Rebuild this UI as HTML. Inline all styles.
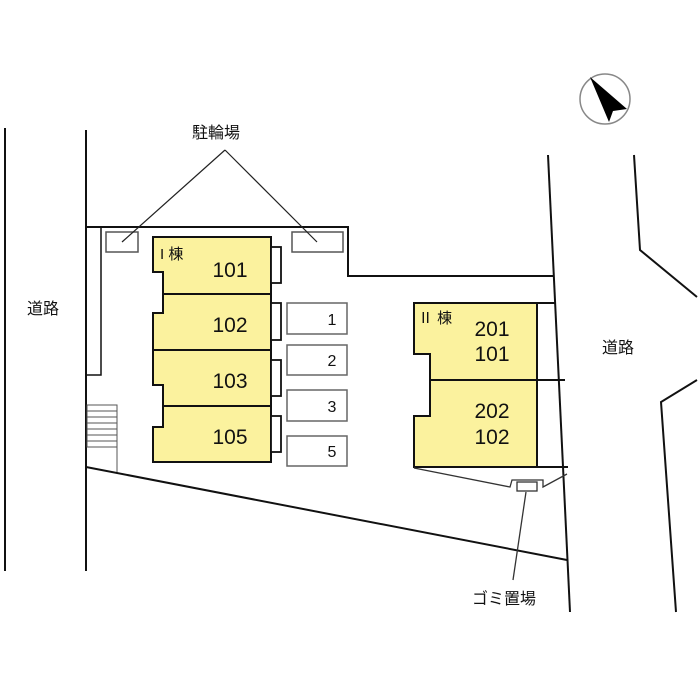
<!DOCTYPE html>
<html><head><meta charset="utf-8"><style>
body{margin:0;background:#fff;}
svg{display:block;}
text{font-family:"Liberation Sans","Noto Sans CJK JP",sans-serif;fill:#111;}
</style></head><body>
<svg width="700" height="700" viewBox="0 0 700 700" xmlns="http://www.w3.org/2000/svg">
<g stroke="#111" stroke-width="2" fill="none">
<!-- left road lines -->
<line x1="5" y1="128" x2="5" y2="571"/>
<line x1="86" y1="130" x2="86" y2="571"/>
<!-- lot top -->
<polyline points="86,227 348,227 348,276 553,276"/>
<rect x="86" y="227" width="15" height="148" stroke-width="1.5"/>
<!-- right lot line -->
<line x1="548" y1="155" x2="570" y2="612"/>
<!-- right road -->
<polyline points="634,155 640,250 697,297"/>
<polyline points="697,380 661,402 676,612"/>
<!-- diagonal bottom -->
<line x1="86" y1="467" x2="567" y2="560"/>
</g>
<!-- stairs -->
<g stroke="#555" stroke-width="1" fill="none">
<rect x="87" y="405" width="30" height="42"/>
<line x1="117" y1="447" x2="117" y2="472"/>
<line x1="87" y1="411" x2="117" y2="411"/><line x1="87" y1="417" x2="117" y2="417"/>
<line x1="87" y1="423" x2="117" y2="423"/><line x1="87" y1="429" x2="117" y2="429"/>
<line x1="87" y1="435" x2="117" y2="435"/><line x1="87" y1="441" x2="117" y2="441"/>
</g>
<!-- bike boxes -->
<g stroke="#555" stroke-width="1.5" fill="#fff">
<rect x="106" y="232" width="32" height="20"/>
<rect x="292" y="232" width="51" height="20"/>
</g>
<g stroke="#222" stroke-width="1.2">
<line x1="225" y1="150" x2="122" y2="242"/>
<line x1="225" y1="150" x2="317" y2="242"/>
</g>
<!-- Building I -->
<path d="M153,237 H271 V462 H153 V427 H163 V385 H153 V313 H163 V272 H153 Z" fill="#fbf29e" stroke="#111" stroke-width="2"/>
<g stroke="#111" stroke-width="2">
<line x1="163" y1="294" x2="271" y2="294"/>
<line x1="153" y1="350" x2="271" y2="350"/>
<line x1="163" y1="406" x2="271" y2="406"/>
</g>
<g stroke="#111" stroke-width="1.8" fill="#fff">
<rect x="271" y="247" width="10" height="36"/>
<rect x="271" y="303" width="10" height="37"/>
<rect x="271" y="360" width="10" height="36"/>
<rect x="271" y="416" width="10" height="36"/>
</g>
<g stroke="#666" stroke-width="1.5" fill="#fff">
<rect x="287" y="303" width="60" height="31"/>
<rect x="287" y="345" width="60" height="30"/>
<rect x="287" y="390" width="60" height="31"/>
<rect x="287" y="436" width="60" height="30"/>
</g>
<g font-size="16" text-anchor="middle">
<text x="332" y="325">1</text><text x="332" y="366">2</text>
<text x="332" y="412">3</text><text x="332" y="457">5</text>
</g>
<g font-size="21" text-anchor="middle">
<text x="230" y="277">101</text><text x="230" y="332">102</text>
<text x="230" y="388">103</text><text x="230" y="444">105</text>
</g>
<text x="160" y="259" font-size="15">I 棟</text>
<!-- Building II -->
<path d="M414,303 H537 V467 H414 V416 H430 V354 H414 Z" fill="#fbf29e" stroke="#111" stroke-width="2"/>
<g stroke="#111" stroke-width="2">
<line x1="537" y1="303" x2="555" y2="303"/>
<line x1="430" y1="380" x2="565" y2="380"/>
<line x1="537" y1="467" x2="568" y2="467"/>
</g>
<g font-size="21" text-anchor="middle">
<text x="492" y="336">201</text><text x="492" y="361">101</text>
<text x="492" y="418">202</text><text x="492" y="444">102</text>
</g>
<text x="418" y="323" font-size="15">Ⅱ 棟</text>
<!-- garbage -->
<g stroke="#333" stroke-width="1.3" fill="none">
<polyline points="414,468 510,487 512,480 543,480 543,487 567,474"/>
<rect x="517" y="482" width="20" height="9"/>
<line x1="526" y1="492" x2="513" y2="580"/>
</g>
<!-- labels -->
<g font-size="16">
<text x="192" y="138">駐輪場</text>
<text x="27" y="314">道路</text>
<text x="602" y="353">道路</text>
<text x="472" y="604">ゴミ置場</text>
</g>
<!-- compass -->
<circle cx="605" cy="99" r="25" fill="none" stroke="#888" stroke-width="1.5"/>
<polygon points="590,77 627,109 613,111 609,122" fill="#000"/>
</svg>
</body></html>
